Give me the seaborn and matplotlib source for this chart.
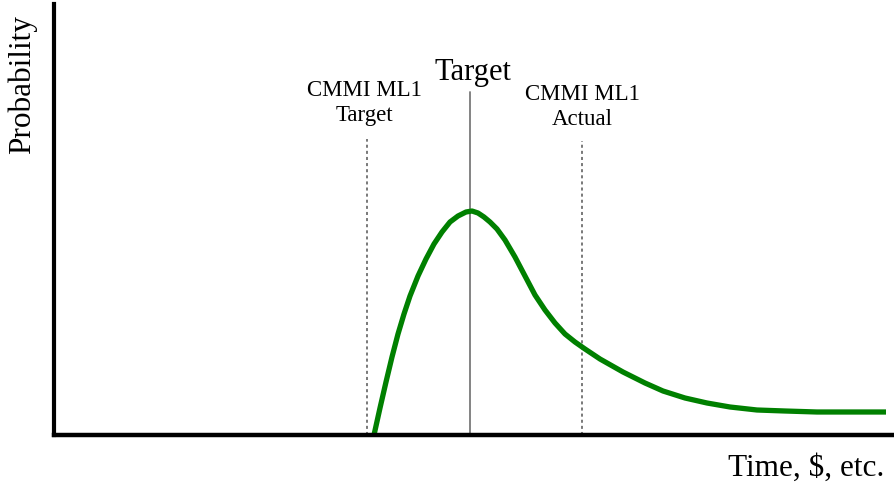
import numpy as np
import pandas as pd
import matplotlib
matplotlib.use("Agg")
import matplotlib.pyplot as plt
import seaborn as sns

# === Data (arbitrary units) ===
curve_x = [374, 380, 386, 392, 398, 404, 410, 418, 426, 434, 442, 450, 458,
           466, 472, 478, 484, 490, 497, 505, 515, 525, 535, 545, 555, 565,
           575, 585, 600, 623, 645, 663, 685, 707, 730, 757, 785, 817, 850, 886]
curve_y = [0, 27, 53, 78, 101, 121, 139, 159, 176, 191, 203, 213, 219,
           223, 224, 222, 218, 213, 206, 195, 178, 159, 140, 125, 112, 101,
           93, 86, 76, 63, 52, 44, 37, 32, 28, 25, 24, 23, 23, 23]

marker_x = [367, 470, 582]
marker_style = ["dotted", "solid", "dotted"]
marker_top = [296, 343, 294]

label_x = [364, 473, 582]
label_text = ["CMMI ML1\nTarget", "Target", "CMMI ML1\nActual"]

df = pd.DataFrame({"x": curve_x, "y": curve_y})

sns.set_theme(style="white")
plt.rcParams["font.family"] = ["Liberation Serif", "DejaVu Serif"]
plt.rcParams["text.color"] = "black"

fig = plt.figure(figsize=(8.95, 4.89), dpi=100)
ax = fig.add_axes([54 / 895, 53 / 489, 841 / 895, 431 / 489])

sns.lineplot(data=df, x="x", y="y", color="#008000", linewidth=3.8,
             ax=ax, sort=False, solid_capstyle="butt", solid_joinstyle="round")

for xv, st, top in zip(marker_x, marker_style, marker_top):
    if st == "solid":
        ax.plot([xv, xv], [0, top], color="#7a7a7a", linewidth=1.3, zorder=1)
    else:
        ax.plot([xv, xv], [0, top], color="#555555", linewidth=1.1,
                linestyle=(0, (2, 2)), zorder=1)

ax.text(label_x[0], 310, label_text[0], ha="center", va="bottom",
        fontsize=16.5, linespacing=1.25, color="black")
ax.text(label_x[1], 349, label_text[1], ha="center", va="bottom",
        fontsize=22, color="black")
ax.text(label_x[2], 306, label_text[2], ha="center", va="bottom",
        fontsize=16.5, linespacing=1.25, color="black")

ax.set_xlim(54, 895)
ax.set_ylim(0, 431)
ax.set_xticks([])
ax.set_yticks([])
ax.set_xlabel("")
ax.set_ylabel("")

for side in ["top", "right"]:
    ax.spines[side].set_visible(False)
ax.spines["left"].set_linewidth(3)
ax.spines["bottom"].set_linewidth(3.2)
ax.spines["left"].set_color("black")
ax.spines["bottom"].set_color("black")

fig.text(22 / 895, 1 - 15 / 489, "Probability", rotation=90, ha="center",
         va="top", fontsize=22.5, color="black")
fig.text(884 / 895, 1 - 468 / 489, "Time, $, etc.", ha="right",
         va="center", fontsize=22.5, color="black")

fig.savefig("out.png", dpi=100)
